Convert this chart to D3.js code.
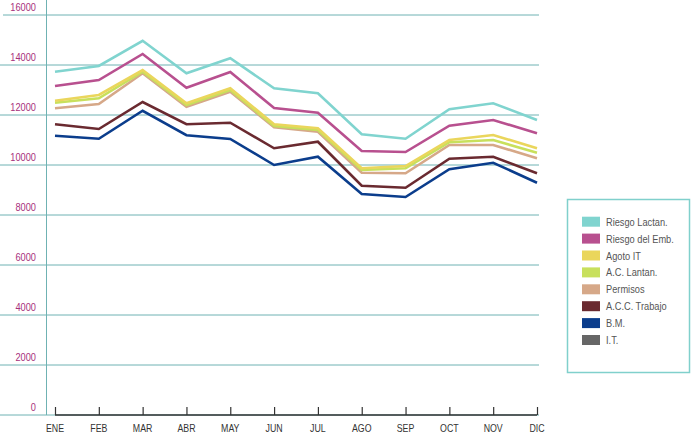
<!DOCTYPE html>
<html><head><meta charset="utf-8">
<script src="https://cdn.jsdelivr.net/npm/d3@7"></script>
<style>
body{margin:0;background:#fff;}
text{font-family:"Liberation Sans Narrow","Liberation Sans",Arial,sans-serif;}
</style></head>
<body><svg id="c" width="693" height="436"></svg>
<script>
const months = ["ENE","FEB","MAR","ABR","MAY","JUN","JUL","AGO","SEP","OCT","NOV","DIC"];
const yTicks = [0,2000,4000,6000,8000,10000,12000,14000,16000];
const seriesNames = ["Riesgo Lactan.","Riesgo del Emb.","Agoto IT","A.C. Lantan.","Permisos","A.C.C. Trabajo","B.M.","I.T."];
const seriesColors = ["#80d4cf","#b8508f","#ead65c","#c8e05c","#d6a888","#6a2a30","#0b3d8c","#666666"];
const riesgoLactan = [13730,13960,14970,13670,14270,13070,12870,11230,11050,12230,12470,11800];
const riesgoEmb    = [13160,13400,14440,13090,13720,12280,12090,10560,10520,11570,11800,11270];
const agotoIT      = [12570,12800,13800,12470,13070,11630,11470,9870,9960,11000,11200,10670];
const acLantan     = [12490,12670,13730,12400,13000,11560,11400,9800,9870,10910,11000,10490];
const permisos     = [12270,12440,13670,12330,12930,11510,11330,9690,9670,10800,10800,10270];
const accTrabajo   = [11630,11440,12520,11630,11690,10670,10930,9170,9090,10250,10330,9670];
const bm           = [11170,11050,12170,11190,11040,10000,10330,8840,8720,9830,10090,9290];
const it           = [];
const allSeries = [riesgoLactan,riesgoEmb,agotoIT,acLantan,permisos,accTrabajo,bm,it];

const svg = d3.select("#c");
const x = d3.scalePoint().domain(months).range([55,537]);
const y = d3.scaleLinear().domain([0,16000]).range([415,15]);

function condense(sel, f){
  sel.each(function(){
    const w = this.getComputedTextLength();
    d3.select(this).attr("textLength", w*f).attr("lengthAdjust","spacingAndGlyphs");
  });
}

// gridlines
svg.append("g").selectAll("line").data(yTicks).join("line")
  .attr("x1",d=>d===16000?3:0).attr("x2",539)
  .attr("y1",d=>y(d)).attr("y2",d=>y(d))
  .attr("stroke","#6fb2b3").attr("stroke-width",1);
// y labels
svg.append("g").selectAll("text").data(yTicks).join("text")
  .attr("x",36).attr("y",d=>y(d)-4).attr("text-anchor","end")
  .attr("font-size",11).attr("fill","#a8307c").text(d=>d).call(condense,0.84);
// vertical axis line
svg.append("line").attr("x1",46.5).attr("x2",46.5).attr("y1",0).attr("y2",415)
  .attr("stroke","#6fb2b3").attr("stroke-width",1);

// x axis
const xa = svg.append("g").attr("transform","translate(0,415)")
  .call(d3.axisTop(x).tickSize(8).tickPadding(0).tickFormat(""));
xa.select(".domain").attr("d","M55,0H537").attr("stroke","#333").attr("stroke-width",1.5);
xa.selectAll(".tick line").attr("stroke","#333").attr("stroke-width",1.2);
svg.append("g").selectAll("text").data(months).join("text")
  .attr("x",d=>x(d)).attr("y",432).attr("text-anchor","middle")
  .attr("font-size",11).attr("fill","#333").text(d=>d).call(condense,0.8);

// lines (draw bottom series first)
const line = d3.line().x((d,i)=>x(months[i])).y(d=>y(d));
const order = [6,5,4,3,2,1,0];
svg.append("g").selectAll("path").data(order).join("path")
  .attr("d",i=>allSeries[i].length?line(allSeries[i]):null)
  .attr("fill","none").attr("stroke",i=>seriesColors[i])
  .attr("stroke-width",2.6).attr("stroke-linejoin","miter");

// legend
const lg = svg.append("g");
lg.append("rect").attr("x",567.5).attr("y",199.5).attr("width",122).attr("height",173)
  .attr("fill","#fff").attr("stroke","#80d0cc").attr("stroke-width",1.5);
const items = lg.selectAll("g.it").data(seriesNames).join("g").attr("class","it")
  .attr("transform",(d,i)=>`translate(0,${221.7+i*16.9})`);
items.append("rect").attr("x",582).attr("y",-5).attr("width",18).attr("height",10)
  .attr("fill",(d,i)=>seriesColors[i]);
items.append("text").attr("x",606).attr("y",4).attr("font-size",10.5)
  .attr("fill","#555").text(d=>d).call(condense,0.88);
</script></body></html>
